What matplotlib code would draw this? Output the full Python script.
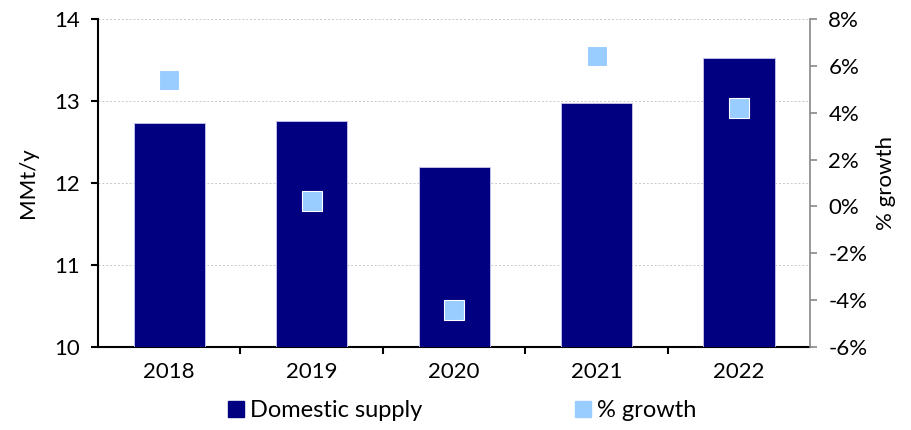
import matplotlib.pyplot as plt
from matplotlib.lines import Line2D
from matplotlib.ticker import FuncFormatter, MultipleLocator

plt.rcParams['font.family'] = ['Lato', 'DejaVu Sans']

years = ["2018", "2019", "2020", "2021", "2022"]
supply = [12.73, 12.76, 12.20, 12.98, 13.52]
growth = [5.4, 0.25, -4.4, 6.4, 4.2]

navy = "#000080"
light = "#99CCFF"
fs = 16

fig = plt.figure(figsize=(9.12, 4.3), dpi=100)
ax = fig.add_axes([0.1075, 0.193, 0.781, 0.763])
ax2 = ax.twinx()

x = list(range(len(years)))
ax.bar(x, supply, width=0.5, color=navy, edgecolor="#c8c8f0", linewidth=0.6, zorder=3)
ax.set_ylim(10, 14)
ax.set_xlim(-0.5, len(years) - 0.5)
ax.yaxis.set_major_locator(MultipleLocator(1))
ax.grid(axis="y", color="#c8c8c8", linestyle=(0, (2, 2)), linewidth=0.7, zorder=0)
ax.set_xticks(x)
ax.set_xticklabels(years)
ax.set_xticks([i + 0.5 for i in x[:-1]], minor=True)
ax.tick_params(axis="x", which="major", length=0, pad=11, labelsize=fs)
ax.tick_params(axis="x", which="minor", length=5, width=1.5, direction="out")
ax.tick_params(axis="y", length=5, width=1.5, pad=8, labelsize=fs)
ax.set_ylabel("MMt/y", fontsize=fs, labelpad=12)
ax.spines["top"].set_visible(False)
ax.spines["right"].set_visible(False)
ax.spines["left"].set_linewidth(1.5)
ax.spines["bottom"].set_linewidth(1.5)

ax2.plot(x, growth, linestyle="none", marker="s", markersize=14,
         color=light, markeredgecolor="white", markeredgewidth=0.8, zorder=4)
ax2.set_ylim(-6, 8)
ax2.yaxis.set_major_locator(MultipleLocator(2))
ax2.yaxis.set_major_formatter(FuncFormatter(lambda v, p: f"{v:.0f}%"))
ax2.tick_params(axis="y", length=5, width=1.2, color="#888888", pad=8, labelsize=fs)
ax2.set_ylabel("% growth", fontsize=fs, labelpad=6)
for s in ["top", "left", "bottom"]:
    ax2.spines[s].set_visible(False)
ax2.spines["right"].set_color("#888888")
ax2.spines["right"].set_linewidth(1.2)

handles = [
    Line2D([], [], linestyle="none", marker="s", markersize=11, color=navy),
    Line2D([], [], linestyle="none", marker="s", markersize=11, color=light),
]
fig.legend(handles, ["Domestic supply", "% growth"], loc="center",
           bbox_to_anchor=(0.507, 0.045), ncol=2, frameon=False, fontsize=fs + 1,
           handlelength=0.6, handletextpad=0.3, columnspacing=6.5)

fig.savefig("out.png", dpi=100)
